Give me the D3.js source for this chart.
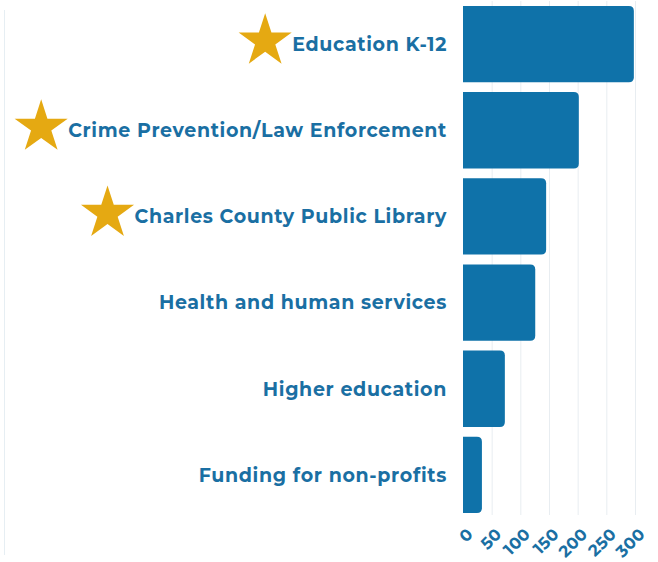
<!DOCTYPE html>
<html><head><meta charset="utf-8">
<script src="https://cdn.jsdelivr.net/npm/d3@7"></script>
<style>html,body{margin:0;padding:0;background:#fff;}svg{display:block;}</style>
</head><body>
<svg id="chart" width="658" height="562"></svg>
<script>
const categories = ["Education K-12","Crime Prevention/Law Enforcement","Charles County Public Library","Health and human services","Higher education","Funding for non-profits"];
const values = [298, 202, 145, 126, 73, 33];
const starred = [true, true, true, false, false, false];
const tickValues = [0, 50, 100, 150, 200, 250, 300];

const blue = "#0f72a9", textBlue = "#1a6fa3", gold = "#e5a912";
const svg = d3.select("#chart");
const x = d3.scaleLinear().domain([0, 300]).range([463, 635]);
const y = d3.scaleBand().domain(categories).range([1, 518]).paddingInner(0.115).paddingOuter(0.0575);

// left faint line
svg.append("line").attr("x1",4.5).attr("x2",4.5).attr("y1",10).attr("y2",555)
  .attr("stroke","#e6eef3").attr("stroke-width",1);

// gridlines
svg.append("g").selectAll("line").data(tickValues.slice(1)).join("line")
  .attr("x1", d => x(d)+0.5).attr("x2", d => x(d)+0.5)
  .attr("y1", 1).attr("y2", 515)
  .attr("stroke", "#e8edf1").attr("stroke-width", 1);

// bars with rounded right corners
function barPath(x0, y0, w, h, r) {
  r = Math.min(r, w, h/2);
  return `M${x0},${y0}H${x0+w-r}Q${x0+w},${y0} ${x0+w},${y0+r}V${y0+h-r}Q${x0+w},${y0+h} ${x0+w-r},${y0+h}H${x0}Z`;
}
svg.append("g").selectAll("path").data(categories).join("path")
  .attr("d", (c,i) => barPath(x(0), y(c), x(values[i]) - x(0), y.bandwidth(), 5))
  .attr("fill", blue);

// labels
const labels = svg.append("g").selectAll("text").data(categories).join("text")
  .attr("x", 447).attr("y", c => y(c) + y.bandwidth()/2)
  .attr("dy", "0.36em")
  .attr("text-anchor", "end")
  .attr("font-family", "Montserrat, 'Open Sans', sans-serif")
  .attr("font-weight", 700)
  .attr("font-size", 19)
  .attr("letter-spacing", "0.65px")
  .attr("fill", textBlue)
  .text(c => c);

// stars
const star = d3.symbol().type(d3.symbolStar).size(874);
labels.each(function(c, i) {
  if (!starred[i]) return;
  const bb = this.getBBox();
  svg.append("path").attr("d", star())
    .attr("transform", `translate(${bb.x - 27},${y(c) + y.bandwidth()/2 - 3})`)
    .attr("fill", gold);
});

// x axis tick labels
svg.append("g").selectAll("text").data(tickValues).join("text")
  .attr("transform", d => `translate(${x(d)+7},${531}) rotate(-45)`)
  .attr("text-anchor", "end")
  .attr("dy", "0.35em")
  .attr("font-family", "Montserrat, 'Open Sans', sans-serif")
  .attr("font-weight", 700)
  .attr("font-size", 16.5)
  .attr("letter-spacing", "0.3px")
  .attr("fill", textBlue)
  .text(d => d);
</script>
</body></html>
